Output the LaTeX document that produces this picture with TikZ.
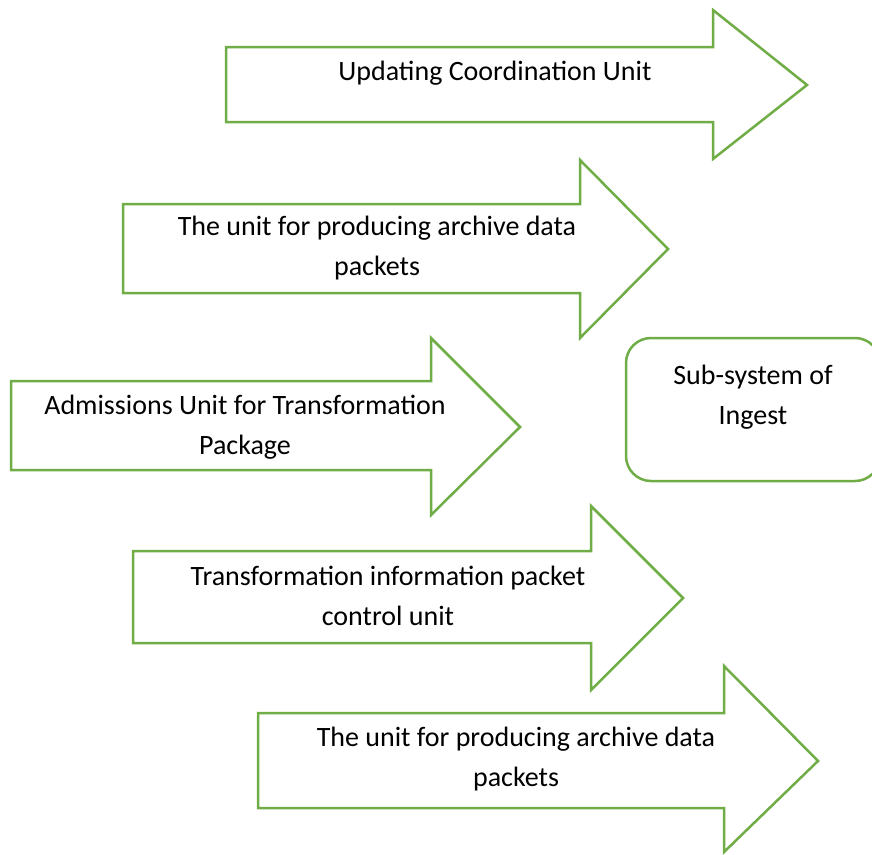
\documentclass[tikz,border=0pt]{standalone}
\usepackage{fontspec}
\setmainfont{Carlito}
\usepackage{xcolor}
\usetikzlibrary{positioning}
\definecolor{leafgreen}{HTML}{70AD47}

\begin{document}
\begin{tikzpicture}[x=1pt, y=-1pt, line width=2.5pt, line join=miter]
    \tikzstyle{label} = [align=center, font=\fontsize{28}{40}\selectfont, inner sep=0pt]
    \tikzstyle{arrowshape} = [draw=leafgreen, fill=white]
    \useasboundingbox (0,0) rectangle (872,854);

    % Arrows
    \draw[arrowshape] (226,47) -- (713,47) -- (713,10) -- (807,85) -- (713,159) -- (713,122) -- (226,122) -- cycle;
    \draw[arrowshape] (123,204) -- (580,204) -- (580,160) -- (668,249) -- (580,338) -- (580,293) -- (123,293) -- cycle;
    \draw[arrowshape] (11,381) -- (431,381) -- (431,338) -- (520,427) -- (431,515) -- (431,470) -- (11,470) -- cycle;
    \draw[arrowshape] (133,551) -- (591,551) -- (591,506) -- (683,598) -- (591,690) -- (591,643) -- (133,643) -- cycle;
    \draw[arrowshape] (258,713) -- (724,713) -- (724,666) -- (818,761) -- (724,852) -- (724,808) -- (258,808) -- cycle;

    % Sub-system box
    \draw[draw=leafgreen, rounded corners=25pt] (626,338) rectangle (880,481);

    \node[label] (update) at (495,73) {Updating Coordination Unit};
    \node[label] (archiveA) at (377,248) {The unit for producing archive data\\packets};
    \node[label] (admission) at (245,427) {Admissions Unit for Transformation\\Package};
    \node[label] (control) at (388,596) {Transformation information packet\\control unit};
    \node[label] (archiveB) at (516,759) {The unit for producing archive data\\packets};
    \node[label] (ingest) at (753,397) {Sub-system of\\Ingest};
\end{tikzpicture}
\end{document}
